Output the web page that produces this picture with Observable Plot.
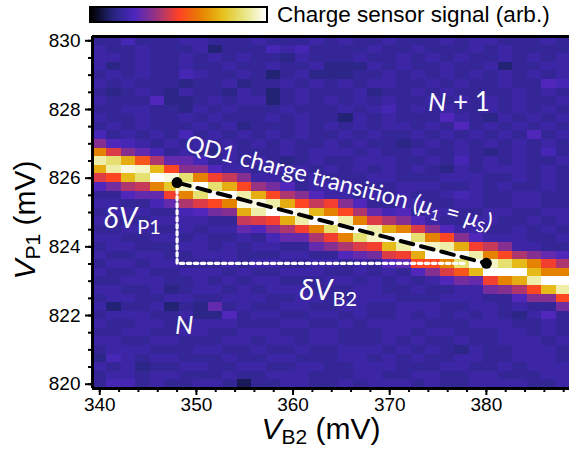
<!DOCTYPE html>
<html>
<head>
<meta charset="utf-8">
<script src="https://cdn.jsdelivr.net/npm/d3@7"></script>
<script src="https://cdn.jsdelivr.net/npm/@observablehq/plot@0.6"></script>
<style>
  body { margin: 0; background: #fff; overflow: hidden; font-family: "Liberation Sans", Arial, sans-serif; }
  #legend { position: relative; height: 28px; }
  #bar { position: absolute; left: 89px; top: 6px; width: 175px; height: 13px; border: 2px solid #000; }
  #legend span { position: absolute; left: 277px; top: 4px; font-size: 22.5px; line-height: 1; white-space: nowrap; }
  #chart svg { display: block; }
</style>
</head>
<body>
<div id="legend"><div id="bar"></div><span>Charge sensor signal (arb.)</span></div>
<div id="chart"></div>
<script>
// Gate voltages of the scan grid (cell centres, mV)
const vB2 = [340, 341.5, 343, 344.5, 346, 347.5, 349, 350.5, 352, 353.5, 355, 356.5, 358, 359.5, 361, 362.5,
             364, 365.5, 367, 368.5, 370, 371.5, 373, 374.5, 376, 377.5, 379, 380.5, 382, 383.5, 385, 386.5, 388];
const vP1 = [830, 829.75, 829.5, 829.25, 829, 828.75, 828.5, 828.25, 828, 827.75, 827.5, 827.25, 827, 826.75,
             826.5, 826.25, 826, 825.75, 825.5, 825.25, 825, 824.75, 824.5, 824.25, 824, 823.75, 823.5, 823.25,
             823, 822.75, 822.5, 822.25, 822, 821.75, 821.5, 821.25, 821, 820.75, 820.5, 820.25, 820];

// Signal level codes: character index / 35 gives the normalised sensor signal (0..1)
const levels = "0123456789abcdefghijklmnopqrstuvwxyz";

// Sensor signal away from the transition, one string per V_P1 row (top = 830 mV), one char per V_B2 column
const background = [
  "66866677666" + "76667676676" + "66767766676",
  "76676667466" + "68786666766" + "76667676666",
  "77676676767" + "66576667667" + "67676676767",
  "75676676676" + "67667555767" + "66766746677",
  "67676687667" + "64675556676" + "76767676767",
  "76766656675" + "66767676776" + "67676676698",
  "65676576657" + "64676667566" + "76766667676",
  "76669556767" + "74676767676" + "67676767667",
  "66776657676" + "66766676786" + "76766767676",
  "76676676766" + "67676647676" + "66976576767",
  "67676667675" + "66676767677" + "67696767676",
  "86767686767" + "67676676766" + "76767676967",
  "96676767676" + "76766767665" + "67676767676",
  "76686676576" + "66767776766" + "76676567686",
  "67667767676" + "76567667776" + "67686767667",
  "76767667767" + "67776767676" + "76576777676",
  "67766676776" + "77667666776" + "66777667676",
  "76676777667" + "66767776667" + "77667676676",
  "66777667676" + "77666776767" + "66787667766",
  "77667766677" + "66776677667" + "76677667766",
  "67776667766" + "76677667776" + "67766776677",
  "76667777667" + "67776667766" + "77667766767",
  "66776676777" + "76667776676" + "66777667676",
  "77667767667" + "67776676776" + "76667777667",
  "67766677676" + "77667766677" + "67776667766",
  "76677667776" + "66776677667" + "76677667776",
  "67767766676" + "77667767667" + "66776676777",
  "76676677767" + "66777667676" + "77667766677",
  "66777667676" + "77666776767" + "67766677676",
  "77667567767" + "67776667766" + "76677667776",
  "67766776677" + "76677667776" + "66777667686",
  "74667465a67" + "66776677667" + "77667767667",
  "67776675596" + "77667767667" + "67676765796",
  "76677667776" + "66776676777" + "76667776676",
  "66776677667" + "77667766677" + "67766677676",
  "77667766677" + "67767766676" + "76676677767",
  "67776667766" + "76676677767" + "67657667776",
  "58767766676" + "67766677676" + "76677667776",
  "76756677667" + "76677667776" + "66776676777",
  "67767766676" + "67776667766" + "77667766677",
  "68867667763" + "66776676777" + "67667777667"
];

// QD1 charge transition: first row index per column and the signal codes going down that column
const ridgeStart = [12, 12, 12, 13, 13, 14, 14, 14, 15, 15, 16, 17, 17, 17, 18, 18, 19,
                    19, 19, 20, 20, 20, 21, 22, 22, 23, 23, 24, 24, 25, 25, 25, 25];
const ridgeCells = ["cmwpg9", "9guwib", "8cpyqe9", "ajxufa", "8eqzma8", "aiyrha", "acuxme8", "8cmzug9",
                    "9huzib", "7fpzmc", "ciwypfa", "dpywg9", "biwzhc8", "9epzpea", "ciywha", "9fqzmea",
                    "hmzuhc", "ciwzme9", "9emzuga", "agwxhb", "8epzqg9", "9cmzwha", "9guzpi9", "cmxzic",
                    "9iwzmg9", "cpzujb", "9hwzqa", "fmxzhb", "ciuzmc", "eqzpe9", "cmqwic", "ahmzqc", "9emzwib"];

// Lever-arm construction: transition end points (V_B2, V_P1) and the corner of the triangle
const transitionB2 = [348, 380];
const transitionP1 = [825.87, 823.52];
const cornerB2 = 348, cornerP1 = 823.52, deltaEndB2 = 378;

// Axis ticks
const xTicks = [340, 350, 360, 370, 380];
const yTicks = [820, 822, 824, 826, 828, 830];

// Assemble the grid
const grid = background.map(row => row.split(""));
ridgeCells.forEach((s, c) => [...s].forEach((ch, i) => { grid[ridgeStart[c] + i][c] = ch; }));
const cells = [];
grid.forEach((row, r) => row.forEach((ch, c) => cells.push({b2: vB2[c], p1: vP1[r], v: levels.indexOf(ch) / 35})));
const hx = (vB2[1] - vB2[0]) / 2, hy = (vP1[0] - vP1[1]) / 2;

// CMRmap-style colour map
const cmr = d3.piecewise(d3.interpolateRgb, ["#000000", "#262680", "#4d26bf", "#993380", "#ff4026",
                                             "#e68000", "#e6bf1a", "#e6e680", "#ffffff"]);
document.getElementById("bar").style.background =
  `linear-gradient(to right, ${d3.range(0, 1.0001, 0.05).map(t => cmr(t)).join(", ")})`;

const tri = [{b2: cornerB2, p1: transitionP1[0]}, {b2: cornerB2, p1: cornerP1}, {b2: deltaEndB2, p1: cornerP1}];
const ends = transitionB2.map((b2, i) => ({b2, p1: transitionP1[i]}));

const xDomain = [vB2[0] - hx, 388.6];
const yDomain = [vP1[vP1.length - 1] - hy, vP1[0] + hy];

const plot = Plot.plot({
  width: 569,
  height: 421,
  marginLeft: 92,
  marginRight: 0,
  marginTop: 8,
  marginBottom: 61,
  x: {domain: xDomain},
  y: {domain: yDomain},
  color: {type: "linear", domain: [0, 1], interpolate: cmr},
  style: {fontFamily: "'Liberation Sans', Arial, sans-serif", fontSize: "19px", color: "black", background: "white"},
  marks: [
    Plot.rect(cells, {x1: d => d.b2 - hx, x2: d => d.b2 + hx, y1: d => d.p1 - hy, y2: d => d.p1 + hy,
                      fill: "v", shapeRendering: "crispEdges"}),
    Plot.line(tri, {x: "b2", y: "p1", stroke: "white", strokeWidth: 3.2, strokeDasharray: "3.5,3.5"}),
    Plot.line(ends, {x: "b2", y: "p1", stroke: "black", strokeWidth: 4, strokeDasharray: "13,8"}),
    Plot.dot(ends, {x: "b2", y: "p1", r: 5.5, fill: "black"}),
    Plot.ruleX([xDomain[0]], {stroke: "black", strokeWidth: 3}),
    Plot.ruleY(yDomain, {stroke: "black", strokeWidth: 3}),
    Plot.axisX({ticks: xTicks, tickSize: 7, tickPadding: 2, strokeWidth: 2, fontSize: 19, label: null}),
    Plot.axisX({ticks: d3.range(340, 389, 2), tickSize: 4, strokeWidth: 2, tickFormat: () => "", label: null}),
    Plot.axisY({ticks: yTicks, tickSize: 7, tickPadding: 5, strokeWidth: 2, fontSize: 19, label: null}),
    Plot.axisY({ticks: d3.range(820, 830.01, 0.5), tickSize: 4, strokeWidth: 2, tickFormat: () => "", label: null})
  ]
});
document.getElementById("chart").append(plot);

// Text with italics and subscripts
const svg = d3.select(plot);
const sx = plot.scale("x"), sy = plot.scale("y");
function richText(x, y, size, family, fill, parts, anchor = "start", angle = 0) {
  const t = svg.append("text")
    .attr("transform", `translate(${x},${y}) rotate(${angle})`)
    .attr("text-anchor", anchor).attr("font-family", family)
    .attr("font-size", size).attr("fill", fill);
  let shift = 0;
  for (const p of parts) {
    const s = t.append("tspan").text(p.t);
    if (p.italic) s.attr("font-style", "italic");
    const target = p.sub ? p.dy : 0;
    if (target !== shift) { s.attr("dy", target - shift); shift = target; }
    if (p.sub) s.attr("font-size", p.size);
  }
  return t;
}
const sans = "'Liberation Sans', Arial, sans-serif";
const lato = "Lato, 'Open Sans', sans-serif";

// Axis titles
richText(321, 411, 30, sans, "black",
  [{t: "V", italic: true}, {t: "B2", sub: true, size: 21, dy: 5}, {t: " (mV)"}], "middle");
richText(35, 192, 30, sans, "black",
  [{t: "V", italic: true}, {t: "P1", sub: true, size: 21, dy: 5}, {t: " (mV)"}], "middle", -90);

// Annotations inside the map
const angle = Math.atan2(sy.apply(transitionP1[1]) - sy.apply(transitionP1[0]),
                         sx.apply(transitionB2[1]) - sx.apply(transitionB2[0])) * 180 / Math.PI;
richText(sx.apply(364.6), sy.apply(825.62), 23.5, lato, "white",
  [{t: "QD1 charge transition ("}, {t: "μ", italic: true}, {t: "1", sub: true, size: 15, dy: 4},
   {t: " = "}, {t: "μ", italic: true}, {t: "S", sub: true, size: 15, dy: 4}, {t: ")"}], "middle", angle);
richText(sx.apply(340.5), sy.apply(824.53), 29, lato, "white",
  [{t: "δ", italic: true}, {t: "V", italic: true}, {t: "P1", sub: true, size: 20, dy: 6}]);
richText(sx.apply(360.7), sy.apply(822.45), 29, lato, "white",
  [{t: "δ", italic: true}, {t: "V", italic: true}, {t: "B2", sub: true, size: 20, dy: 6}]);
richText(sx.apply(347.84), sy.apply(821.46), 26, lato, "white", [{t: "N", italic: true}]);
richText(sx.apply(374.0), sy.apply(827.93), 26, lato, "white", [{t: "N", italic: true}, {t: " + 1"}]);
</script>
</body>
</html>
